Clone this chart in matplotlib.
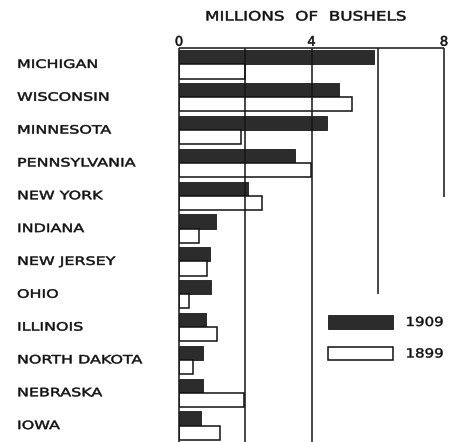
import numpy as np
import matplotlib
matplotlib.use("Agg")
import matplotlib.pyplot as plt
from matplotlib.patheffects import AbstractPathEffect
from matplotlib.transforms import Affine2D, blended_transform_factory

states = ["MICHIGAN", "WISCONSIN", "MINNESOTA", "PENNSYLVANIA", "NEW YORK",
          "INDIANA", "NEW JERSEY", "OHIO", "ILLINOIS", "NORTH DAKOTA",
          "NEBRASKA", "IOWA"]
bushels_1909 = [5.89, 4.83, 4.47, 3.50, 2.08, 1.12, 0.94, 0.97, 0.82, 0.73, 0.73, 0.66]
bushels_1899 = [2.00, 5.23, 1.87, 3.99, 2.51, 0.60, 0.85, 0.30, 1.15, 0.42, 1.96, 1.24]
x_ticks = [0, 4, 8]
year_labels = ["1909", "1899"]


class WideText(AbstractPathEffect):
    """Stretch text glyphs sideways from the left edge of the string,
    with a thin outline to give the letters a bit more weight."""

    def __init__(self, sx, lw=0.0):
        super().__init__()
        self.sx = sx
        self.lw = lw

    def draw_path(self, renderer, gc, tpath, affine, rgbFace=None):
        gc0 = renderer.new_gc()
        gc0.copy_properties(gc)
        if self.lw:
            gc0.set_linewidth(self.lw)
            gc0.set_foreground(rgbFace)
        renderer.draw_path(gc0, tpath, Affine2D().scale(self.sx, 1) + affine, rgbFace)
        gc0.restore()


W, H = 455, 442
fig = plt.figure(figsize=(W / 100, H / 100), dpi=100)
fig.patch.set_facecolor("white")
plt.rcParams["font.family"] = "DejaVu Sans"

ax = fig.add_axes([179 / W, 0, (444 - 179) / W, 394 / H])
ax.set_xlim(0, 8)
ax.set_ylim(11.5, -0.5)
for s in ax.spines.values():
    s.set_visible(False)

y = np.arange(len(states))
h = 0.43
dark = ax.barh(y - h / 2, bushels_1909, height=h, color="#2c2c2c",
               edgecolor="#1a1a1a", linewidth=0.6, zorder=2, label=year_labels[0])
light = ax.barh(y + h / 2, bushels_1899, height=h, color="white",
                edgecolor="#111111", linewidth=1.1, zorder=2, label=year_labels[1])

# scale lines
line_kw = dict(color="#151515", linewidth=1.1, zorder=3, clip_on=False)
ax.vlines([0, 2, 4], -0.5, 11.5, **line_kw)
ax.vlines(6, -0.5, 7.0, **line_kw)
ax.vlines(8, -0.5, 4.05, **line_kw)
ax.hlines(-0.5, 0, 8, **line_kw)

ax.xaxis.tick_top()
ax.set_xticks(x_ticks)
ax.set_xticklabels([str(t) for t in x_ticks], fontsize=9.5, color="#111111")
ax.tick_params(axis="x", length=0, pad=-0.5)
for t in ax.get_xticklabels():
    t.set_path_effects([WideText(1.0, 0.4)])
ax.set_yticks([])

# state names down the left side
trans = blended_transform_factory(fig.transFigure, ax.transData)
for i, name in enumerate(states):
    t = ax.text(17 / W, i, name, transform=trans, ha="left", va="center",
                fontsize=8.3, color="#111111")
    t.set_path_effects([WideText(1.38, 0.35)])

title = fig.text(205 / W, 1 - 17 / H, "MILLIONS  OF  BUSHELS", ha="left",
                 va="center", fontsize=9.3, color="#111111")
title.set_path_effects([WideText(1.3, 0.35)])

leg = ax.legend(handles=[dark, light], loc="upper left",
                bbox_to_anchor=(328 / W, 1 - 315 / H), bbox_transform=fig.transFigure,
                frameon=False, borderpad=0, borderaxespad=0, fontsize=9,
                handlelength=5.2, handleheight=1.3, handletextpad=1.0,
                labelspacing=1.4)
for t in leg.get_texts():
    t.set_color("#111111")
    t.set_path_effects([WideText(1.2, 0.3)])

fig.savefig("out.png", dpi=100)
